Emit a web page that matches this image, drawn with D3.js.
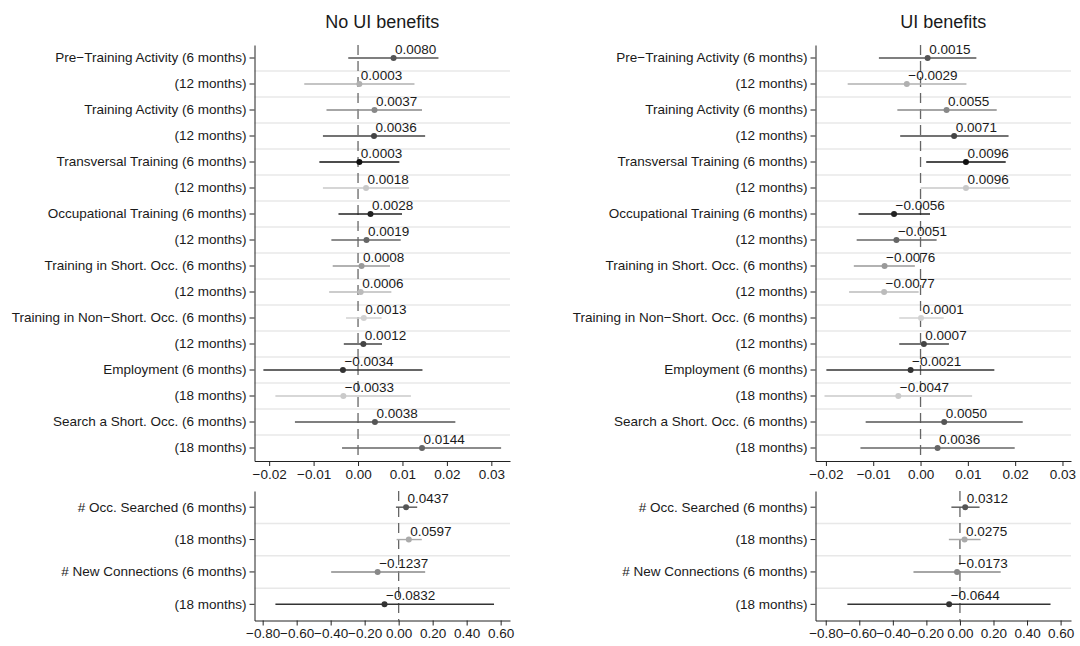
<!DOCTYPE html>
<html>
<head>
<meta charset="utf-8">
<script src="https://cdn.jsdelivr.net/npm/d3@7"></script>
<style>
  body { margin: 0; background: #fff; }
  svg { display: block; font-family: "Liberation Sans", Arial, Helvetica, sans-serif; }
</style>
</head>
<body>
<div id="chart"></div>
<script>
// row labels
const topLabels = [
    "Pre\u2212Training Activity (6 months)", "(12 months)",
    "Training Activity (6 months)", "(12 months)",
    "Transversal Training (6 months)", "(12 months)",
    "Occupational Training (6 months)", "(12 months)",
    "Training in Short. Occ. (6 months)", "(12 months)",
    "Training in Non\u2212Short. Occ. (6 months)", "(12 months)",
    "Employment (6 months)", "(18 months)",
    "Search a Short. Occ. (6 months)", "(18 months)"
];
const bottomLabels = [
    "# Occ. Searched (6 months)", "(18 months)",
    "# New Connections (6 months)", "(18 months)"
];

// No UI benefits
const noUiTopEst = [0.0080, 0.0003, 0.0037, 0.0036, 0.0003, 0.0018, 0.0028, 0.0019, 0.0008, 0.0006, 0.0013, 0.0012, -0.0034, -0.0033, 0.0038, 0.0144];
const noUiTopLo  = [-0.0022, -0.0121, -0.0071, -0.0079, -0.0087, -0.0079, -0.0044, -0.0060, -0.0057, -0.0065, -0.0027, -0.0032, -0.0213, -0.0186, -0.0142, -0.0036];
const noUiTopHi  = [0.0181, 0.0127, 0.0144, 0.0151, 0.0093, 0.0115, 0.0099, 0.0096, 0.0072, 0.0075, 0.0053, 0.0054, 0.0145, 0.0119, 0.0219, 0.0322];
const noUiBotEst = [0.0437, 0.0597, -0.1237, -0.0832];
const noUiBotLo  = [-0.016, -0.012, -0.397, -0.725];
const noUiBotHi  = [0.109, 0.136, 0.156, 0.561];

// UI benefits
const uiTopEst = [0.0015, -0.0029, 0.0055, 0.0071, 0.0096, 0.0096, -0.0056, -0.0051, -0.0076, -0.0077, 0.0001, 0.0007, -0.0021, -0.0047, 0.0050, 0.0036];
const uiTopLo  = [-0.0088, -0.0154, -0.0049, -0.0043, 0.0012, 0.0000, -0.0131, -0.0135, -0.0141, -0.0151, -0.0045, -0.0045, -0.0199, -0.0203, -0.0116, -0.0127];
const uiTopHi  = [0.0118, 0.0097, 0.0161, 0.0186, 0.0180, 0.0189, 0.0020, 0.0034, -0.0012, -0.0004, 0.0049, 0.0060, 0.0156, 0.0109, 0.0216, 0.0199];
const uiBotEst = [0.0312, 0.0275, -0.0173, -0.0644];
const uiBotLo  = [-0.051, -0.066, -0.277, -0.671];
const uiBotHi  = [0.117, 0.123, 0.243, 0.540];

// axis ticks
const topTicks = [-0.02, -0.01, 0.00, 0.01, 0.02, 0.03];
const bottomTicks = [-0.80, -0.60, -0.40, -0.20, 0.00, 0.20, 0.40, 0.60];

// gray level per row
const topGrays = ["#555", "#b0b0b0", "#888", "#444", "#111", "#c8c8c8", "#222", "#666", "#999", "#bbb", "#d2d2d2", "#444", "#333", "#cacaca", "#555", "#666"];
const bottomGrays = ["#555", "#aaa", "#888", "#333"];

const width = 1080, height = 646;
const svg = d3.select("#chart").append("svg")
    .attr("width", width)
    .attr("height", height);

const panels = [
    { title: "No UI benefits", x0: 254.5, x1: 510,
      topDomain: [-0.0233, 0.0342], botDomain: [-0.848, 0.655],
      top: [noUiTopEst, noUiTopLo, noUiTopHi], bot: [noUiBotEst, noUiBotLo, noUiBotHi] },
    { title: "UI benefits", x0: 815.5, x1: 1071,
      topDomain: [-0.0222, 0.0318], botDomain: [-0.861, 0.662],
      top: [uiTopEst, uiTopLo, uiTopHi], bot: [uiBotEst, uiBotLo, uiBotHi] }
];

const fmtTick = d3.format(".2f");
const fmtVal = d3.format(".4f");

function drawPlot(g, p, labels, grays, series, domain, ticks, y0, y1) {
    const [est, lo, hi] = series;
    const x = d3.scaleLinear().domain(domain).range([p.x0, p.x1]);
    const y = d3.scaleBand().domain(d3.range(labels.length)).range([y0, y1]).padding(0);
    const cy = i => y(i) + y.bandwidth() / 2;
    const rows = d3.range(labels.length);

    // light grid between rows
    g.append("g")
        .selectAll("line")
        .data(rows.slice(1))
        .join("line")
        .attr("x1", p.x0).attr("x2", p.x1)
        .attr("y1", i => y(i)).attr("y2", i => y(i))
        .attr("stroke", "#e8e8e8")
        .attr("stroke-width", 1.5);

    // zero reference
    g.append("line")
        .attr("x1", x(0)).attr("x2", x(0))
        .attr("y1", y0).attr("y2", y1)
        .attr("stroke", "#666")
        .attr("stroke-width", 1.3)
        .attr("stroke-dasharray", "10,6");

    g.append("g")
        .selectAll("line")
        .data(rows)
        .join("line")
        .attr("x1", i => x(lo[i])).attr("x2", i => x(hi[i]))
        .attr("y1", cy).attr("y2", cy)
        .attr("stroke", i => grays[i])
        .attr("stroke-width", 1.4);

    g.append("g")
        .selectAll("circle")
        .data(rows)
        .join("circle")
        .attr("cx", i => x(est[i]))
        .attr("cy", cy)
        .attr("r", 3)
        .attr("fill", i => grays[i]);

    g.append("g")
        .selectAll("text")
        .data(rows)
        .join("text")
        .attr("x", i => x(est[i]) + 1.5)
        .attr("y", i => cy(i) - 4)
        .attr("font-size", 13.5)
        .attr("fill", "#1a1a1a")
        .text(i => fmtVal(est[i]));

    const yAxis = g.append("g")
        .attr("transform", `translate(${p.x0},0)`)
        .call(d3.axisLeft(y).tickSize(5).tickSizeOuter(0).tickPadding(3).tickFormat(i => labels[i]));
    const xAxis = g.append("g")
        .attr("transform", `translate(0,${y1})`)
        .call(d3.axisBottom(x).tickValues(ticks).tickSize(5).tickSizeOuter(0).tickPadding(3).tickFormat(fmtTick));

    [yAxis, xAxis].forEach(a => {
        a.attr("font-family", null).attr("font-size", 13.5);
        a.selectAll("text").attr("fill", "#1a1a1a");
        a.selectAll("line").attr("stroke", "#222");
        a.select(".domain").attr("stroke", "#222");
    });
}

panels.forEach(p => {
    const g = svg.append("g");
    g.append("text")
        .attr("x", (p.x0 + p.x1) / 2)
        .attr("y", 28)
        .attr("text-anchor", "middle")
        .attr("font-size", 18)
        .attr("fill", "#1a1a1a")
        .text(p.title);

    drawPlot(g, p, topLabels, topGrays, p.top, p.topDomain, topTicks, 45, 461);
    drawPlot(g, p, bottomLabels, bottomGrays, p.bot, p.botDomain, bottomTicks, 491, 620.5);
});
</script>
</body>
</html>
